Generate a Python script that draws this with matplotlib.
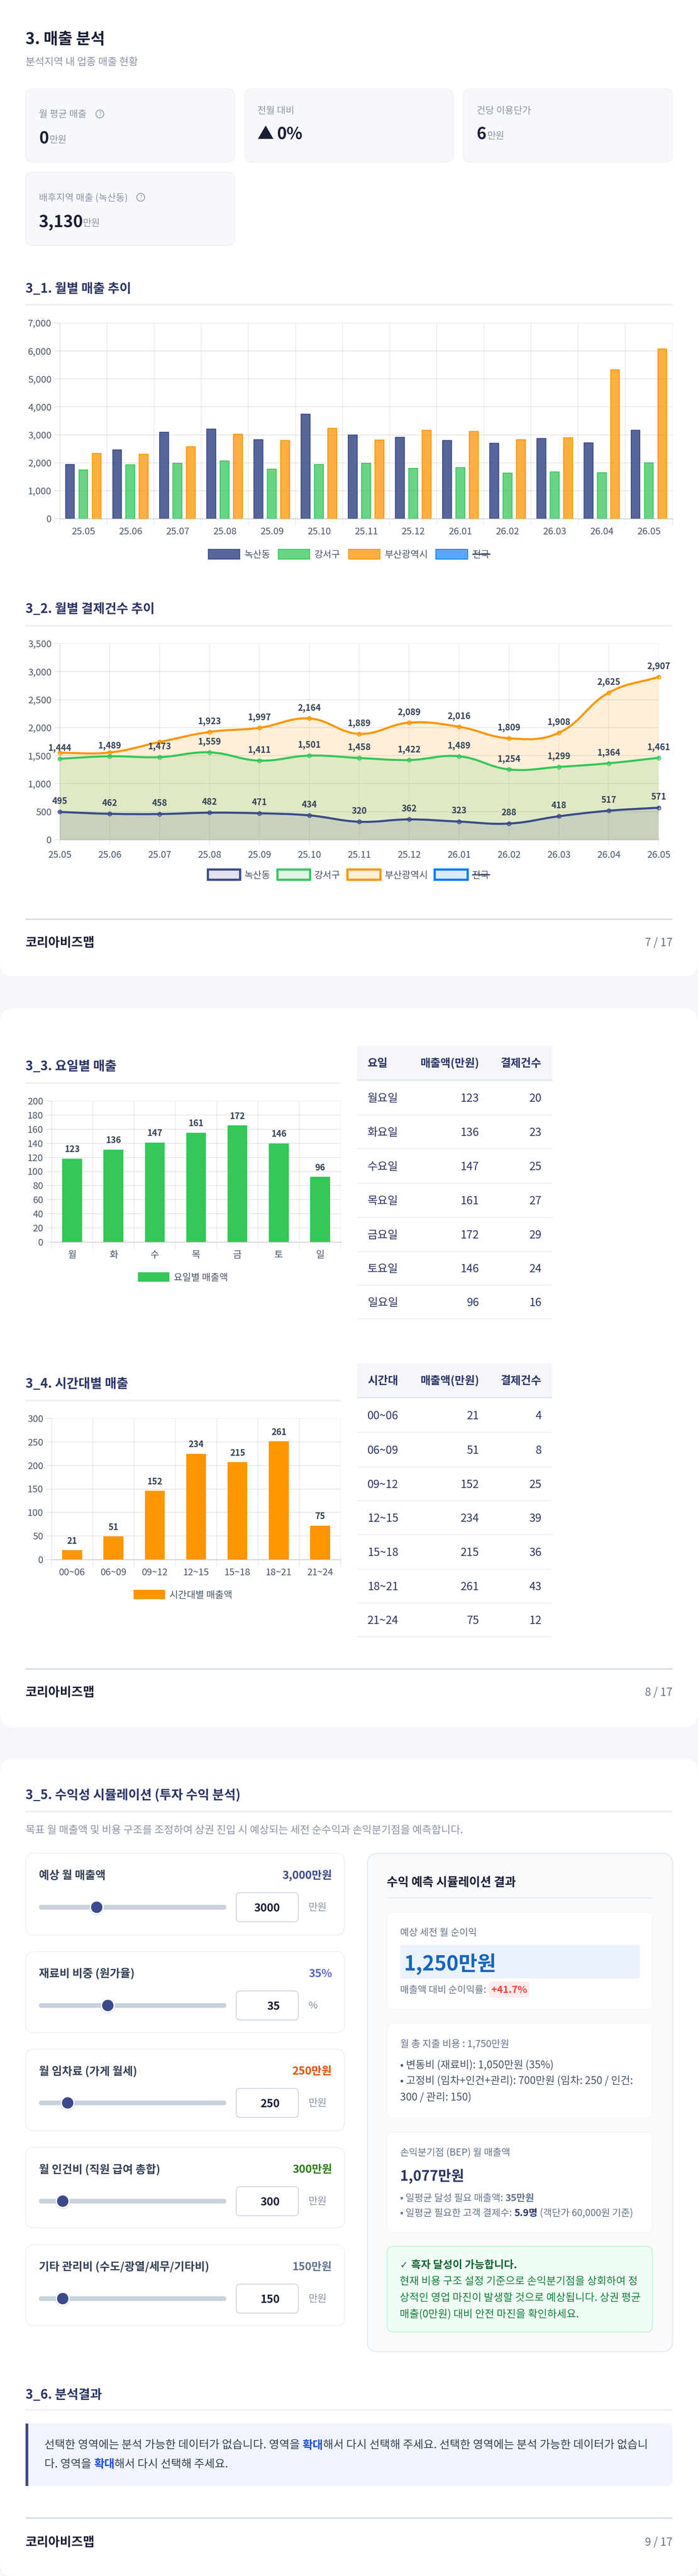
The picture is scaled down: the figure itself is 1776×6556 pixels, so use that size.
import numpy as np
import matplotlib
matplotlib.use('Agg')
import matplotlib.pyplot as plt
from matplotlib.patches import FancyBboxPatch, Rectangle, Circle, PathPatch
from matplotlib.path import Path

plt.rcParams['font.family'] = ['Noto Sans CJK KR', 'DejaVu Sans']

W, H = 1776, 6556

# colours
NAVY = '#3b4a8a'
GREEN = '#34c759'
ORANGE = '#ff9500'
BLUE = '#007aff'
TICK = '#475569'
TITLE = '#2b3565'
GREY = '#8a94a6'

# monthly data
months = ['25.05', '25.06', '25.07', '25.08', '25.09', '25.10', '25.11', '25.12',
          '26.01', '26.02', '26.03', '26.04', '26.05']
sales_nok = [1934, 2465, 3095, 3210, 2823, 3740, 2995, 2909, 2794, 2701, 2873, 2715, 3167]
sales_gang = [1741, 1920, 1985, 2071, 1770, 1934, 1985, 1805, 1834, 1626, 1677, 1641, 1992]
sales_busan = [2329, 2300, 2579, 3016, 2794, 3238, 2809, 3167, 3117, 2830, 2895, 5331, 6069]
legend_names = ['녹산동', '강서구', '부산광역시', '전국']

count_nok = [495, 462, 458, 482, 471, 434, 320, 362, 323, 288, 418, 517, 571]
count_gang = [1444, 1489, 1473, 1559, 1411, 1501, 1458, 1422, 1489, 1254, 1299, 1364, 1461]
count_busan = [1551, 1556, 1743, 1923, 1997, 2164, 1889, 2089, 2016, 1809, 1908, 2625, 2907]
# the first three orange labels are not shown in the chart
busan_labeled = [False, False, False] + [True] * 10

# weekday data (bars were caught a little short of the labelled value)
days = ['월', '화', '수', '목', '금', '토', '일']
day_names = ['월요일', '화요일', '수요일', '목요일', '금요일', '토요일', '일요일']
day_drawn = [118.3, 131, 141, 155, 165.5, 140, 92.4]
day_sales = [123, 136, 147, 161, 172, 146, 96]
day_counts = [20, 23, 25, 27, 29, 24, 16]

# time slot data
slots = ['00~06', '06~09', '09~12', '12~15', '15~18', '18~21', '21~24']
slot_drawn = [19.7, 49, 146, 225, 207, 251.5, 72]
slot_sales = [21, 51, 152, 234, 215, 261, 75]
slot_counts = [4, 8, 25, 39, 36, 43, 12]

# simulator
slider_names = ['예상 월 매출액', '재료비 비중 (원가율)', '월 임차료 (가게 월세)', '월 인건비 (직원 급여 총합)',
                '기타 관리비 (수도/광열/세무/기타비)']
slider_values = [3000, 35, 250, 300, 150]
slider_max = [10200, 98, 1950, 3000, 1500]
slider_text = ['3,000만원', '35%', '250만원', '300만원', '150만원']
slider_units = ['만원', '%', '만원', '만원', '만원']


def fs(px):
    return px * 0.72


fig = plt.figure(figsize=(W / 100, H / 100), dpi=100, facecolor='#f5f7fb')
bg = fig.add_axes([0, 0, 1, 1], zorder=0)
bg.set_xlim(0, W)
bg.set_ylim(H, 0)
bg.axis('off')
top = fig.add_axes([0, 0, 1, 1], zorder=5)
top.set_xlim(0, W)
top.set_ylim(H, 0)
top.axis('off')
top.patch.set_alpha(0)


def box(x0, y0, x1, y1, r, fc, ec='none', lw=0, ax=bg, z=1):
    p = FancyBboxPatch((x0, y0), x1 - x0, y1 - y0, boxstyle=f'round,pad=0,rounding_size={r}',
                       fc=fc, ec=ec, lw=lw, zorder=z)
    ax.add_patch(p)
    return p


def rect(x0, y0, x1, y1, fc, ec='none', lw=0, z=2):
    bg.add_patch(Rectangle((x0, y0), x1 - x0, y1 - y0, fc=fc, ec=ec, lw=lw, zorder=z))


def txt(x, y, s, px, color='#1a1f36', weight='normal', ha='left', va='center', **kw):
    # centre of the glyphs sits a bit under the centre of the text box
    return top.text(x, y + 0.09 * px, s, fontsize=fs(px), color=color, fontweight=weight, ha=ha, va=va, **kw)


def rich(x, y, parts, px):
    # runs of differently styled text on one line
    rend = fig.canvas.get_renderer()
    for s, color, weight in parts:
        t = txt(x, y, s, px, color, weight)
        probe = top.text(0, 0, s + '|', fontsize=fs(px), fontweight=weight)
        bar = top.text(0, 0, '|', fontsize=fs(px), fontweight=weight)
        x += probe.get_window_extent(rend).width - bar.get_window_extent(rend).width
        probe.remove()
        bar.remove()


def chart_axes(l, t, r, b):
    ax = fig.add_axes([l / W, 1 - b / H, (r - l) / W, (b - t) / H], zorder=3)
    ax.patch.set_alpha(0)
    for s in ax.spines.values():
        s.set_visible(False)
    ax.set_axisbelow(True)
    return ax


def section(y_text, y_rule, s, x1=1711):
    txt(65, y_text, s, 32.5, TITLE, 'bold')
    rect(65, y_rule - 2.5, x1, y_rule + 2.5, '#f0f1f6')


def footer(y_rule, y_text, page):
    rect(65, y_rule - 1.5, 1711, y_rule + 1.5, '#cfd6e2')
    txt(65, y_text, '코리아비즈맵', 32, '#1a1f36', 'bold')
    txt(1711, y_text, page, 28, '#64748b', ha='right')


def style_y(ax, left_alpha=0.17):
    ax.tick_params(axis='y', length=10, width=1.4, color='#e6e6e6', labelcolor=TICK, labelsize=fs(24), pad=5)
    ax.grid(axis='y', color='black', alpha=0.1, lw=1.4)
    ax.grid(axis='x', color='black', alpha=0.085, lw=1.2)
    ax.axhline(0, color='#d5d8de', lw=2, zorder=1.5, clip_on=False)
    ax.axvline(ax.get_xlim()[0], color='black', alpha=left_alpha, lw=1.6, zorder=1)


def category_ticks(ax, labels):
    n = len(labels)
    ax.set_xlim(-0.5, n - 0.5)
    ax.set_xticks(np.arange(n + 1) - 0.5)
    ax.set_xticklabels([])
    ax.set_xticks(np.arange(n), labels, minor=True)
    ax.tick_params(axis='x', which='major', length=12, width=1.2, color='#e9e9e9')
    ax.tick_params(axis='x', which='minor', length=0, labelcolor=TICK, labelsize=fs(24), pad=16)


def legend_row(y, h, patches, names, colors, fill_alpha, lw, text_gap):
    for (x0, x1), name, c, a in zip(patches, names, colors, fill_alpha):
        bg.add_patch(Rectangle((x0, y - h / 2), x1 - x0, h, fc=matplotlib.colors.to_rgba(c, a),
                               ec=c, lw=lw, zorder=2))
        t = txt(x1 + text_gap, y, name, 24, TICK)
        if name == '전국':
            rect(x1 + text_gap, y - 1.5, x1 + text_gap + 46, y + 1.5, '#334155', z=6)


# ---- page backgrounds
box(0, -40, W, 2485, 36, 'white')
box(0, 2566, W, 4396, 36, 'white')
box(0, 4476, W, H, 36, 'white')

# ---- header
txt(65, 97, '3. 매출 분석', 40, '#1a1f36', 'bold')
txt(65, 156, '분석지역 내 업종 매출 현황', 26, GREY)

for x0, y0, x1, y1 in [(65, 226, 597, 413), (623, 226, 1153, 413), (1179, 226, 1711, 413), (65, 438, 597, 625)]:
    box(x0, y0, x1, y1, 20, '#f7f8fc', '#eef0f6', 1.5)


def help_icon(x, y):
    top.add_patch(Circle((x, y), 10, fc='none', ec=GREY, lw=1.4))
    txt(x, y, '?', 15, GREY, ha='center')


txt(99, 289, '월 평균 매출', 24, GREY)
help_icon(254, 290)
txt(99, 350, '0', 42, '#1a1f36', 'bold')
txt(126, 354, '만원', 24, GREY)
txt(655, 280, '전월 대비', 24, GREY)
txt(655, 339, '▲', 42, '#1a1f36', 'bold')
txt(704, 339, '0%', 42, '#1a1f36', 'bold')
txt(1213, 280, '건당 이용단가', 24, GREY)
txt(1213, 339, '6', 42, '#1a1f36', 'bold')
txt(1240, 344, '만원', 24, GREY)
txt(99, 501, '배후지역 매출 (녹산동)', 24, GREY)
help_icon(358, 502)
txt(99, 562, '3,130', 42, '#1a1f36', 'bold')
txt(211, 566, '만원', 24, GREY)

# ---- 3_1 monthly sales
section(733, 775, '3_1. 월별 매출 추이')
ax = chart_axes(152, 822, 1711, 1320)
x = np.arange(len(months))
for off, vals, c, a in [(-0.283, sales_nok, NAVY, 0.85), (0, sales_gang, GREEN, 0.75), (0.283, sales_busan, ORANGE, 0.75)]:
    ax.bar(x + off, vals, width=0.19, color=matplotlib.colors.to_rgba(c, a),
           edgecolor=c, linewidth=1.5, joinstyle='round', zorder=2)
category_ticks(ax, months)
ax.set_ylim(0, 7000)
ax.set_yticks(range(0, 7001, 1000), [f'{v:,}' for v in range(0, 7001, 1000)])
style_y(ax, 0.12)
legend_row(1410, 25, [(530, 610), (708, 788), (887, 967), (1109, 1190)], legend_names,
           [NAVY, GREEN, ORANGE, BLUE], [0.85, 0.75, 0.75, 0.65], 1.4, 12)

# ---- 3_2 monthly counts
section(1548, 1592, '3_2. 월별 결제건수 추이')
ax = chart_axes(152, 1638, 1676, 2137)
ax.set_xlim(0, 12)
ax.set_ylim(0, 3500)
ax.set_xticks(x, months)
ax.set_yticks(range(0, 3501, 500), [f'{v:,}' for v in range(0, 3501, 500)])
ax.tick_params(axis='x', length=10, width=1.2, color='#e9e9e9', labelcolor=TICK, labelsize=fs(24), pad=10)
style_y(ax)


def spline_path(xs, ys, tension=0.4):
    # same bezier control points as a chart.js line, worked out in screen proportion
    sx, sy = 127.0, 499 / 3500
    px = np.array(xs, float) * sx
    py = np.array(ys, float) * sy
    verts = [(px[0], py[0])]
    codes = [Path.MOVETO]
    n = len(px)
    ctrl = []
    for i in range(n):
        a = max(i - 1, 0)
        b = min(i + 1, n - 1)
        d01 = np.hypot(px[i] - px[a], py[i] - py[a])
        d12 = np.hypot(px[b] - px[i], py[b] - py[i])
        tot = d01 + d12
        fa = tension * d01 / tot
        fb = tension * d12 / tot
        ctrl.append(((px[i] - fa * (px[b] - px[a]), py[i] - fa * (py[b] - py[a])),
                     (px[i] + fb * (px[b] - px[a]), py[i] + fb * (py[b] - py[a]))))
    for i in range(n - 1):
        verts += [ctrl[i][1], ctrl[i + 1][0], (px[i + 1], py[i + 1])]
        codes += [Path.CURVE4] * 3
    v = np.array(verts)
    v[:, 0] /= sx
    v[:, 1] /= sy
    return v, codes


for vals, c, shown in [(count_busan, ORANGE, busan_labeled),
                       (count_gang, GREEN, [True] * 13),
                       (count_nok, NAVY, [True] * 13)]:
    v, codes = spline_path(x, vals)
    fill_v = np.vstack([v, [[x[-1], 0], [x[0], 0], v[0]]])
    fill_c = codes + [Path.LINETO, Path.LINETO, Path.CLOSEPOLY]
    ax.add_patch(PathPatch(Path(fill_v, fill_c), fc=c, ec='none', alpha=0.15, zorder=2))
    ax.add_patch(PathPatch(Path(v, codes), fc='none', ec=c, lw=3.8, zorder=3, clip_on=False, capstyle='round'))
    ax.plot(x, vals, 'o', ms=7, mfc=matplotlib.colors.to_rgba(c, 0.15), mec=c, mew=1.5, zorder=4, clip_on=False)
    for xi, val, on in zip(x, vals, shown):
        if on:
            ax.annotate(f'{val:,}', (xi, val), xytext=(0, 19.5), textcoords='offset points', ha='center',
                        va='center', fontsize=fs(22), color='#334155', fontweight='bold', zorder=6,
                        annotation_clip=False)
legend_row(2226, 26, [(529, 611), (706, 789), (884, 968), (1106, 1190)], legend_names,
           [NAVY, GREEN, ORANGE, BLUE], [0.15] * 4, 4, 11)
footer(2339, 2397, '7 / 17')


def day_chart(t, b, cats, drawn, labels, c, ymax, step, name, leg_x0, leg_x1):
    ax = chart_axes(131, t, 867, b)
    xs = np.arange(len(cats))
    ax.bar(xs, drawn, width=0.48, color=c, zorder=2)
    for xi, d, lab in zip(xs, drawn, labels):
        ax.annotate(f'{lab}', (xi, d), xytext=(0, 16.5), textcoords='offset points', ha='center', va='center',
                    fontsize=fs(22), color='#334155', fontweight='bold')
    category_ticks(ax, cats)
    ax.set_ylim(0, ymax)
    ax.set_yticks(range(0, ymax + 1, step))
    style_y(ax, 0.09)
    rect(leg_x0, b + 77, leg_x1, b + 101, c)
    txt(leg_x1 + 11, b + 89, name, 24, TICK)


def table(head, names, sales, counts, head_top, head_bottom, rows):
    rect(908, head_top, 1405, head_bottom, '#f4f6fb')
    rect(908, head_bottom - 3, 1405, head_bottom + 1, '#e2e8f0')
    yh = (head_top + head_bottom) / 2 - 2
    txt(935, yh, head[0], 28.3, TITLE, 'bold')
    txt(1219, yh, head[1], 28, TITLE, 'bold', ha='right')
    txt(1378, yh, head[2], 28.3, TITLE, 'bold', ha='right')
    prev = head_bottom
    for nm, s, n, rb in zip(names, sales, counts, rows):
        yc = (prev + rb) / 2
        txt(935, yc, nm, 28.4, TITLE)
        txt(1219, yc, str(s), 28.4, TITLE, ha='right')
        txt(1378, yc, str(n), 28.4, TITLE, ha='right')
        rect(908, rb - 1.5, 1405, rb + 1.5, '#f0f2f6')
        prev = rb


# ---- 3_3 weekday
section(2712, 2756, '3_3. 요일별 매출', 867)
day_chart(2802, 3161, days, day_drawn, day_sales, GREEN, 200, 20, '요일별 매출액', 351, 431)
table(['요일', '매출액(만원)', '결제건수'], day_names, day_sales, day_counts, 2662, 2750,
      [2837, 2923, 3011, 3098, 3185, 3270, 3356])

# ---- 3_4 time slot
section(3520, 3564, '3_4. 시간대별 매출', 867)
day_chart(3610, 3969, slots, slot_drawn, slot_sales, ORANGE, 300, 50, '시간대별 매출액', 340, 420)
table(['시간대', '매출액(만원)', '결제건수'], slots, slot_sales, slot_counts, 3470, 3558,
      [3645, 3733, 3819, 3905, 3993, 4079, 4165])
footer(4247, 4305, '8 / 17')

# ---- 3_5 simulator
section(4566, 4610, '3_5. 수익성 시뮬레이션 (투자 수익 분석)')
txt(65, 4656, '목표 월 매출액 및 비용 구조를 조정하여 상권 진입 시 예상되는 세전 순수익과 손익분기점을 예측합니다.', 26.5, GREY)

slider_cards = [(4717, 4925), (4967, 5173), (5215, 5423), (5465, 5670), (5713, 5919)]
slider_colors = [NAVY, '#5c6bc0', '#e65100', '#2e7d0f', '#64748b']
for (y0, y1), name, val, vmax, vtxt, unit, c in zip(slider_cards, slider_names, slider_values, slider_max,
                                                    slider_text, slider_units, slider_colors):
    box(65, y0, 877, y1, 22, 'white', '#f0f2f6', 1.8)
    txt(99, y0 + 54, name, 28.4, '#334155', 'bold')
    txt(845, y0 + 54, vtxt, 28, c, 'bold', ha='right')
    ys = y0 + 137
    box(99, ys - 6, 576, ys + 6, 6, '#c8d2df')
    tx = 115 + 446 * val / vmax
    bg.add_patch(Circle((tx, ys + 2), 19, fc='#00000014', ec='none', zorder=3))
    bg.add_patch(Circle((tx, ys), 18, fc='white', ec='none', zorder=3))
    bg.add_patch(Circle((tx, ys), 14.5, fc=NAVY, ec='none', zorder=4))
    box(601, ys - 37, 759, ys + 37, 10, 'white', '#cbd5e1', 1.6)
    txt(712, ys, str(val), 28, '#1a1f36', 'bold', ha='right')
    txt(785, ys - 1, unit, 25.5, '#8a94a6')

# result panel
box(935, 4717, 1711, 5985, 26, '#f8fafc', '#e2e8f0', 1.8)
txt(984, 4788, '수익 예측 시뮬레이션 결과', 30.5, '#1a1f36', 'bold')
rect(984, 4829, 1661, 4831, '#e2e8f0')
box(985, 4866, 1660, 5114, 16, 'white', '#f3f5f8', 1.2)
box(985, 5150, 1660, 5390, 16, 'white', '#f3f5f8', 1.2)
box(985, 5426, 1660, 5682, 16, 'white', '#f3f5f8', 1.2)

txt(1018, 4917, '예상 세전 월 순이익', 24.3, '#64748b')
box(1018, 4950, 1628, 5035, 6, '#ebf2fb', z=3)
txt(1028, 4994, '1,250만원', 52, '#1565c0', 'bold')
txt(1018, 5063, '매출액 대비 순이익률:', 24.3, '#64748b')
box(1244, 5043, 1347, 5084, 8, '#ffebee', z=3)
txt(1296, 5063, '+41.7%', 25, '#ff3b30', 'bold', ha='center')

txt(1018, 5201, '월 총 지출 비용 : 1,750만원', 24.7, '#64748b')
txt(1018, 5254, '• 변동비 (재료비): 1,050만원 (35%)', 26.5, '#475569')
txt(1018, 5294, '• 고정비 (임차+인건+관리): 700만원 (임차: 250 / 인건:', 26.5, '#475569')
txt(1018, 5336, '300 / 관리: 150)', 26.5, '#475569')

txt(1018, 5477, '손익분기점 (BEP) 월 매출액', 24.3, '#64748b')
txt(1018, 5536, '1,077만원', 36, TITLE, 'bold')
rich(1018, 5593, [('• 일평균 달성 필요 매출액: ', '#64748b', 'normal'), ('35만원', '#64748b', 'bold')], 24.5)
rich(1018, 5631, [('• 일평균 필요한 고객 결제수: ', '#64748b', 'normal'), ('5.9명', TITLE, 'bold'),
                  (' (객단가 60,000원 기준)', '#64748b', 'normal')], 24.5)

box(985, 5717, 1660, 5935, 16, '#f0fdf4', '#bbf7d0', 1.6)
txt(1017, 5763, '✓', 24, '#166534', 'bold', family='DejaVu Sans')
txt(1046, 5763, '흑자 달성이 가능합니다.', 27, '#166534', 'bold')
txt(1017, 5804, '현재 비용 구조 설정 기준으로 손익분기점을 상회하여 정', 26.6, '#15803d')
txt(1017, 5846, '상적인 영업 마진이 발생할 것으로 예상됩니다. 상권 평균', 26.6, '#15803d')
txt(1017, 5887, '매출(0만원) 대비 안전 마진을 확인하세요.', 26.6, '#15803d')

# ---- 3_6 result
section(6093, 6133, '3_6. 분석결과')
box(65, 6168, 1711, 6327, 14, '#f0f4ff')
rect(65, 6168, 72, 6327, NAVY, z=3)
PLAIN = '#334155'
rich(113, 6221, [('선택한 영역에는 분석 가능한 데이터가 없습니다. 영역을 ', PLAIN, 'normal'), ('확대', '#1d4ed8', 'bold'),
                 ('해서 다시 선택해 주세요. 선택한 영역에는 분석 가능한 데이터가 없습니', PLAIN, 'normal')], 28.5)
rich(113, 6269, [('다. 영역을 ', PLAIN, 'normal'), ('확대', '#1d4ed8', 'bold'), ('해서 다시 선택해 주세요.', PLAIN, 'normal')], 28.5)
footer(6408, 6468, '9 / 17')

fig.savefig('out.png', dpi=100, facecolor=fig.get_facecolor())
